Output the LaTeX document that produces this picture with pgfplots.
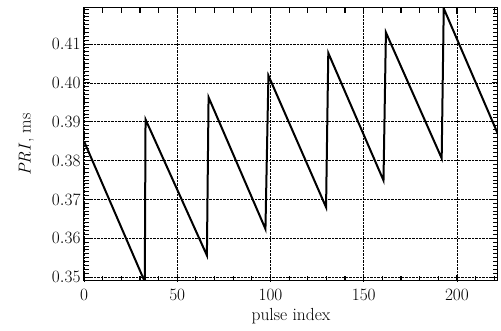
\documentclass[border=0pt]{standalone}
\usepackage{pgfplots}
\pgfplotsset{compat=1.18}
\begin{document}
\begin{tikzpicture}
\begin{axis}[
  width=414pt, height=273pt, scale only axis,
  xmin=0, xmax=222, ymin=0.349, ymax=0.4193,
  xtick={0,50,100,150,200},
  ytick={0.35,0.36,0.37,0.38,0.39,0.40,0.41},
  minor xtick={10,20,30,40,60,70,80,90,110,120,130,140,160,170,180,190,210,220},
  minor ytick={0.349,0.351,0.352,0.353,0.354,0.355,0.356,0.357,0.358,0.359,0.361,0.362,0.363,0.364,0.365,0.366,0.367,0.368,0.369,0.371,0.372,0.373,0.374,0.375,0.376,0.377,0.378,0.379,0.381,0.382,0.383,0.384,0.385,0.386,0.387,0.388,0.389,0.391,0.392,0.393,0.394,0.395,0.396,0.397,0.398,0.399,0.401,0.402,0.403,0.404,0.405,0.406,0.407,0.408,0.409,0.411,0.412,0.413,0.414,0.415,0.416,0.417,0.418,0.419},
  tick align=inside,
  tick pos=both,
  major tick length=6pt, minor tick length=5pt,
  tick style={black, line width=1pt},
  xtick style={black, line width=1.2pt},
  axis line style={line width=1pt},
  grid=major,
  major grid style={densely dotted, black, line width=0.6pt},
  yticklabel style={/pgf/number format/.cd, fixed, fixed zerofill, precision=2},
  scaled y ticks=false,
  xticklabel style={yshift=-5pt},
  ticklabel style={font=\fontsize{17.5}{20}\selectfont},
  label style={font=\fontsize{17.5}{20}\selectfont},
  xlabel={pulse index},
  ylabel={$\mathit{PRI}$, ms},
  xlabel style={yshift=-1pt},
  ylabel style={yshift=11pt},
]
\addplot[black, line width=2pt, line join=miter] coordinates {
(0,0.385) (32.6,0.3488) (33,0.3906) (65.9,0.3556) (66.8,0.3963)
(97.3,0.3624) (98.9,0.4019) (129.8,0.3680) (131,0.4077)
(160.6,0.3749) (161.9,0.4130) (191.8,0.3806) (192.9,0.4192) (222,0.3868)
};
\end{axis}
\useasboundingbox ([xshift=-84pt,yshift=-50pt]current axis.south west) rectangle ([xshift=3pt,yshift=8pt]current axis.north east);
\end{tikzpicture}
\end{document}
